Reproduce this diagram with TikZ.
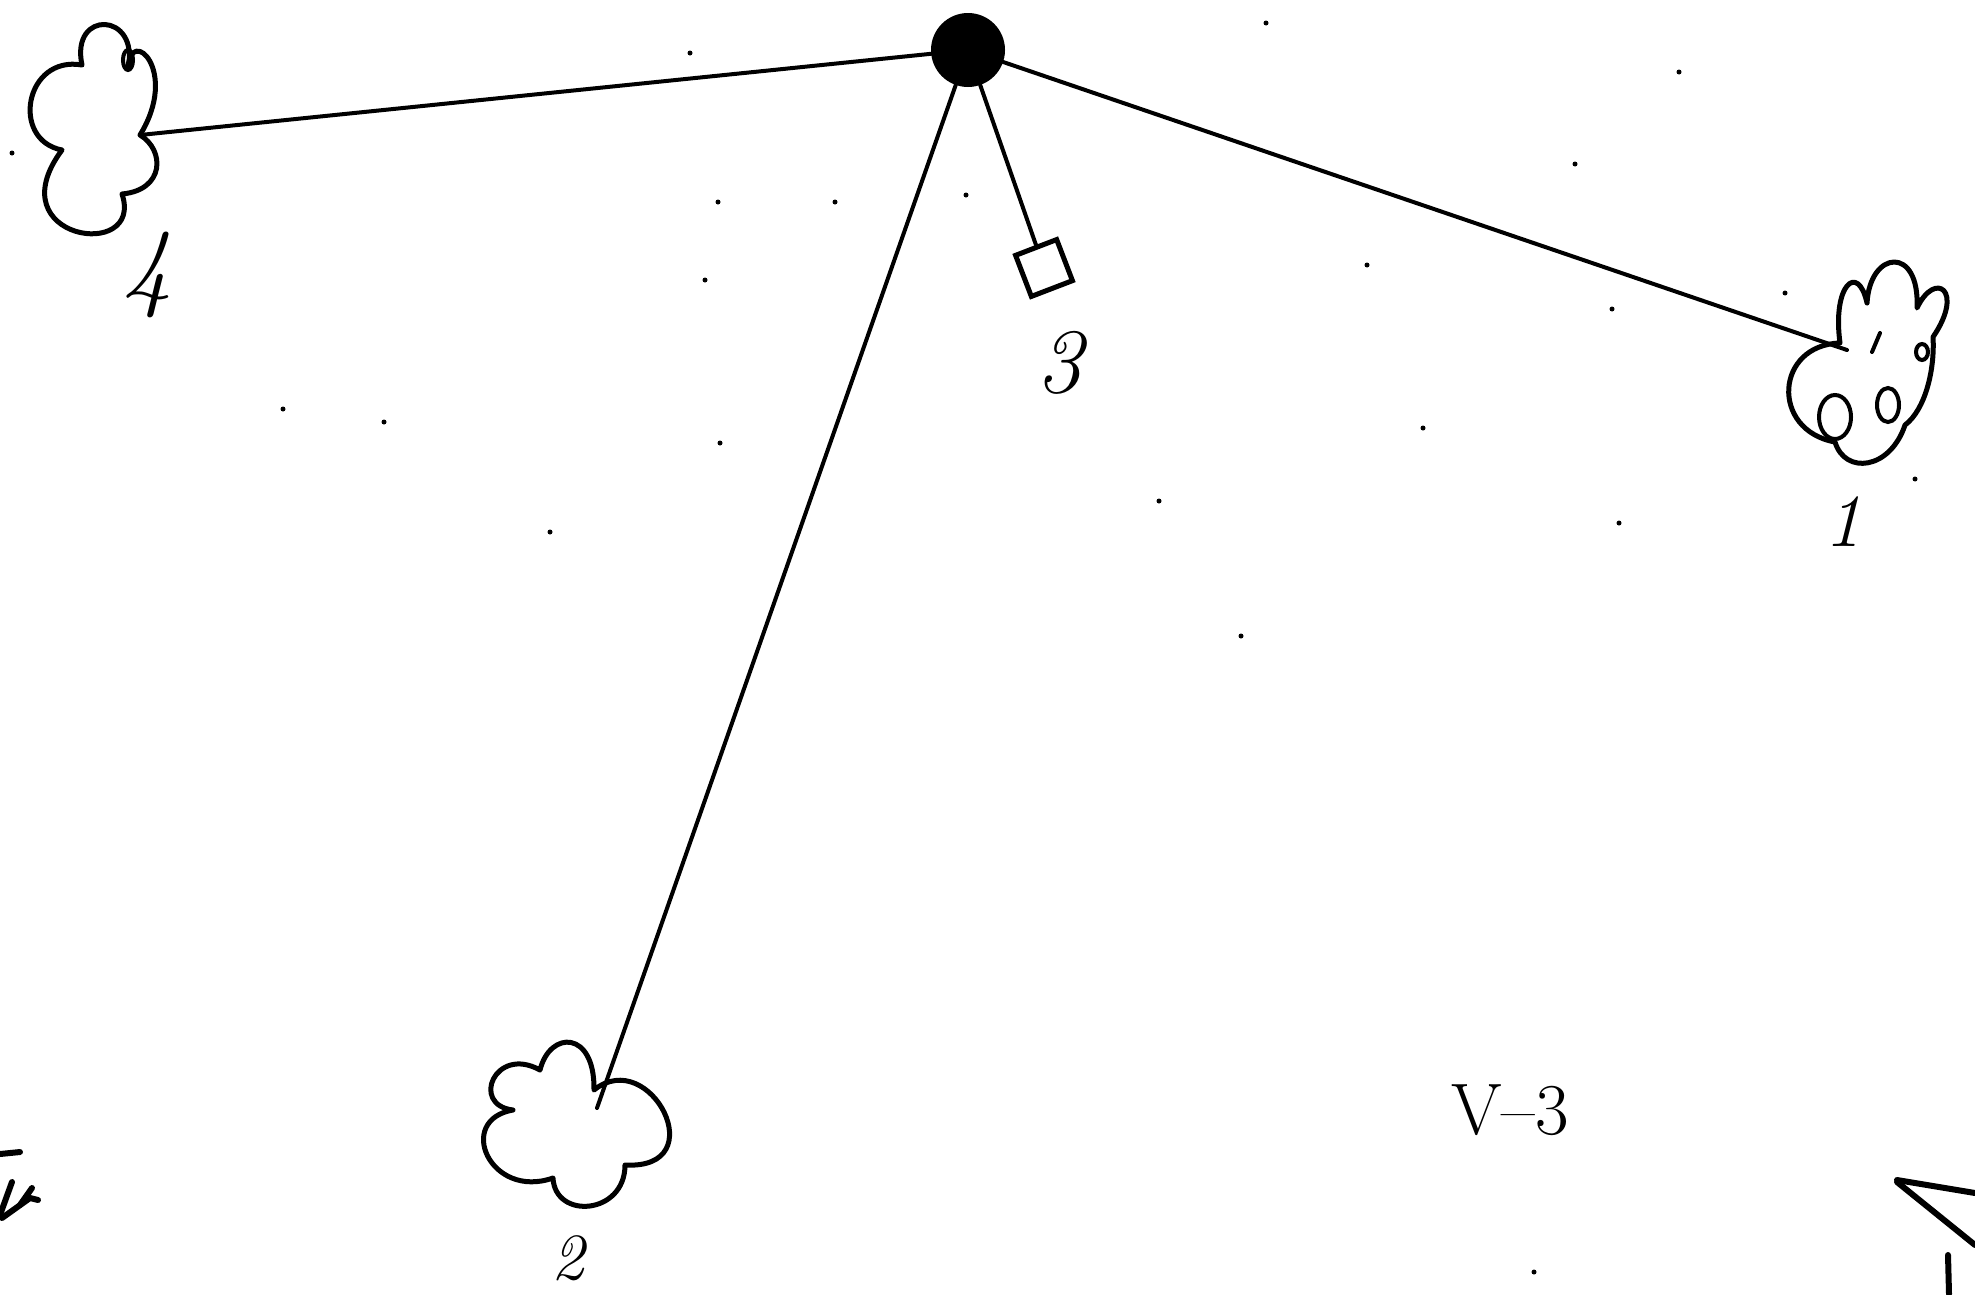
\documentclass[tikz,border=0pt]{standalone}
\tikzset{
  link/.style={line width=4pt, line cap=round},
  cloudline/.style={line width=5pt, line join=round, line cap=round},
  hand/.style={inner sep=0pt},
  speck/.style={fill=black},
  stroke/.style={line width=6pt, line cap=round, line join=round},
}
\begin{document}
\begin{tikzpicture}[x=1pt,y=-1pt]
\path[use as bounding box] (0,0) rectangle (1975,1294);
\clip (0,0) rectangle (1975,1294);

% hub
\node[circle, fill=black, inner sep=0pt, minimum size=74pt] (hub) at (968,50) {};

% cloud 4
\draw[cloudline] (82,65) .. controls (70,9) and (140,12) .. (128,68)
  .. controls (130,25) and (180,70) .. (140,135)
  .. controls (165,150) and (165,190) .. (122,194)
  .. controls (145,262) and (-5,240) .. (62,150)
  .. controls (10,140) and (25,55) .. (82,65) -- cycle;
\draw[line width=4pt] (128,60) ellipse[x radius=5, y radius=10];
\coordinate (c4) at (140,135);

% cloud 1
\draw[cloudline] (1840,343) .. controls (1832,285) and (1858,262) .. (1867,303)
  .. controls (1870,250) and (1920,245) .. (1917,308)
  .. controls (1935,270) and (1965,290) .. (1933,337)
  .. controls (1935,370) and (1925,410) .. (1905,425)
  .. controls (1890,470) and (1845,475) .. (1835,442)
  .. controls (1770,430) and (1775,345) .. (1840,343) -- cycle;
\draw[line width=4pt] (1835,417) ellipse[x radius=16, y radius=22];
\draw[line width=4pt] (1888,405) ellipse[x radius=11, y radius=17];
\draw[line width=4pt] (1922,352) ellipse[x radius=6, y radius=8];
\draw[line width=4pt, line cap=round] (1872,352) -- (1880,333);
\coordinate (c1) at (1847,350);

% cloud 2
\draw[cloudline] (594,1090) .. controls (650,1045) and (715,1170) .. (625,1165)
  .. controls (625,1215) and (555,1220) .. (553,1178)
  .. controls (490,1200) and (455,1120) .. (513,1110)
  .. controls (470,1105) and (495,1045) .. (540,1070)
  .. controls (550,1030) and (595,1030) .. (594,1090) -- cycle;
\coordinate (c2) at (597,1108);

% small square 3
\node[draw, line width=5pt, minimum size=44pt, inner sep=0pt, rotate=21] (sq) at (1044,268) {};

% connectors
\draw[link] (hub) -- (c4);
\draw[link] (hub) -- (c1);
\draw[link] (hub) -- (c2);
\draw[link] (hub) -- (sq);

% handwritten labels
\node[hand, font=\fontsize{100}{100}\selectfont\itshape] (l4) at (147,275) {4};
\node[hand, font=\fontsize{75}{75}\selectfont\itshape] (l1) at (1843,522) {1};
\node[hand, font=\fontsize{92}{92}\selectfont\itshape] (l3) at (1059,363) {3};
\node[hand, font=\fontsize{66}{66}\selectfont\itshape] (l2) at (568,1258) {2};

% page label
\node[hand, font=\fontsize{73}{73}\selectfont] (v3) at (1510,1110) {V--3};

% partial marks at the edges
\draw[stroke] (0,1154) -- (20,1152);
\draw[stroke] (0,1215) -- (12,1182);
\draw[stroke] (2,1218) -- (30,1198) -- (38,1200);
\draw[stroke] (20,1205) -- (32,1188);
\draw[stroke] (1897,1180) -- (1975,1193);
\draw[stroke] (1897,1182) -- (1975,1245);
\draw[stroke] (1948,1255) -- (1949,1294);

% specks
\foreach \p in {(690,53),(1266,23),(1679,72),(1575,164),(1367,265),(1612,309),
  (1423,428),(1619,523),(1915,479),(1241,636),(1159,501),(718,202),(835,202),
  (705,280),(720,443),(550,532),(384,422),(283,409),(966,195),(1534,1272),
  (12,153),(1785,293)}
  \fill[speck] \p circle[radius=2.5];
\end{tikzpicture}
\end{document}
